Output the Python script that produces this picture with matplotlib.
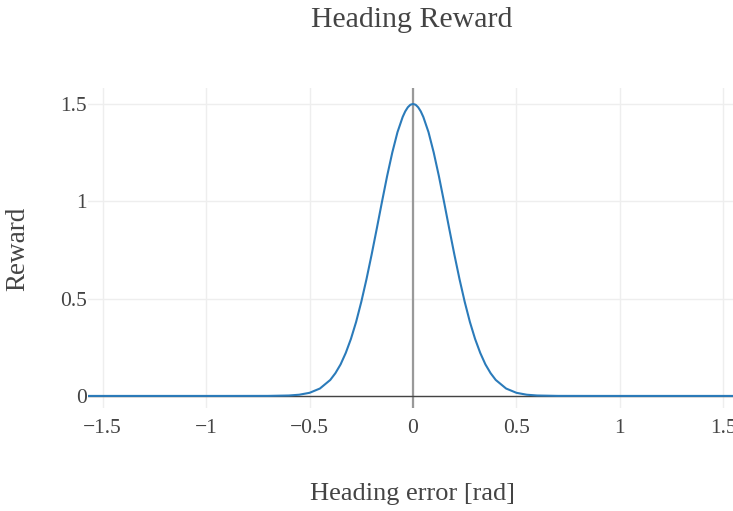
import matplotlib
matplotlib.use("Agg")
import matplotlib.pyplot as plt

# Data
heading_error = [-1.5708, -1.2, -0.9, -0.7, -0.6, -0.55, -0.5, -0.45, -0.4, -0.375, -0.35,
                 -0.325, -0.3, -0.275, -0.25, -0.225, -0.2, -0.175, -0.15, -0.125, -0.1,
                 -0.075, -0.05, -0.0375, -0.025, -0.0125, 0.0, 0.0125, 0.025, 0.0375, 0.05,
                 0.075, 0.1, 0.125, 0.15, 0.175,
                 0.2, 0.225, 0.25, 0.275, 0.3, 0.325, 0.35, 0.375, 0.4, 0.45, 0.5, 0.55,
                 0.6, 0.7, 0.9, 1.2, 1.5708]
reward = [0.0, 0.0, 0.0, 0.0002, 0.0022, 0.0062, 0.016, 0.038, 0.082, 0.117, 0.162,
          0.221, 0.293, 0.380, 0.483, 0.599, 0.726, 0.860, 0.997, 1.130, 1.251,
          1.355, 1.433, 1.462, 1.483, 1.496, 1.5, 1.496, 1.483, 1.462, 1.433,
          1.355, 1.251, 1.130, 0.997, 0.860,
          0.726, 0.599, 0.483, 0.380, 0.293, 0.221, 0.162, 0.117, 0.082, 0.038, 0.016, 0.0062,
          0.0022, 0.0002, 0.0, 0.0, 0.0]
x_ticks = [-1.5, -1, -0.5, 0, 0.5, 1, 1.5]
x_tick_labels = ["\u22121.5", "\u22121", "\u22120.5", "0", "0.5", "1", "1.5"]
y_ticks = [0, 0.5, 1, 1.5]
y_tick_labels = ["0", "0.5", "1", "1.5"]

plt.rcParams['font.family'] = ['Liberation Serif', 'DejaVu Serif']
TXT = '#444444'

W, H = 733, 511
fig = plt.figure(figsize=(W / 100, H / 100), dpi=100)
left, right, top, bottom = 88, 738, 88, 408
ax = fig.add_axes([left / W, 1 - bottom / H, (right - left) / W, (bottom - top) / H])

ax.plot(heading_error, reward, color='#2b7bba', lw=1.5, zorder=3)
ax.axvline(0, color='#999999', lw=1.6, zorder=2)
ax.axhline(0, color='#444444', lw=1.0, zorder=2)

ax.set_xlim(-1.5708, 1.5708)
ax.set_ylim(-0.062, 1.582)
ax.set_xticks(x_ticks)
ax.set_xticklabels(x_tick_labels)
ax.set_yticks(y_ticks)
ax.set_yticklabels(y_tick_labels)
ax.grid(True, color='#eeeeee', lw=1.0, zorder=0)
ax.set_axisbelow(True)
for s in ax.spines.values():
    s.set_visible(False)
ax.tick_params(axis='both', length=0, labelsize=15.5, colors=TXT)
ax.tick_params(axis='x', pad=8)
ax.tick_params(axis='y', pad=1)

fig.text(412 / W, 1 - 20 / H, "Heading Reward", ha='center', va='center', fontsize=21.5, color=TXT)
fig.text(412 / W, 1 - 494 / H, "Heading error [rad]", ha='center', va='center', fontsize=19, color=TXT)
fig.text(18 / W, 1 - 249 / H, "Reward", ha='center', va='center', rotation=90, fontsize=19.5, color=TXT)

fig.savefig("out.png", dpi=100)
